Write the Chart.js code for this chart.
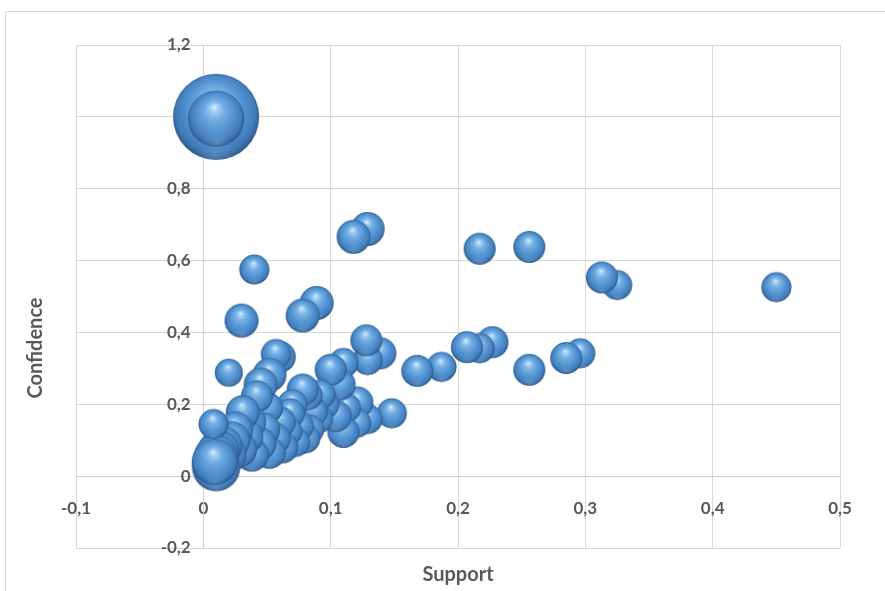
<!DOCTYPE html>
<html>
<head>
<meta charset="utf-8">
<script src="https://cdn.jsdelivr.net/npm/chart.js@4.4.1/dist/chart.umd.min.js"></script>
<style>
  html, body { margin: 0; padding: 0; background: #ffffff; }
  #wrap { position: relative; width: 885px; height: 591px; }
</style>
</head>
<body>
<div id="wrap"><canvas id="chart" width="885" height="591"></canvas></div>
<script>
// Association rules: support (x), confidence (y), bubble size (rule count / weight)
const support = [
  0.010, 0.010, 0.129, 0.118, 0.040, 0.217, 0.256, 0.313, 0.325, 0.450,
  0.089, 0.078, 0.030,
  0.128, 0.139, 0.129, 0.168, 0.187, 0.207, 0.217, 0.227, 0.256, 0.285, 0.296, 0.148,
  0.060, 0.057, 0.020, 0.052, 0.045, 0.042, 0.031,
  0.100, 0.110, 0.107, 0.078, 0.082, 0.092, 0.121, 0.129, 0.104, 0.110,
  0.090, 0.095, 0.112, 0.120,
  0.008, 0.010, 0.009, 0.010, 0.012, 0.015, 0.018, 0.022, 0.025, 0.028,
  0.033, 0.036, 0.038, 0.044, 0.047, 0.050, 0.052, 0.056, 0.060, 0.062,
  0.066, 0.068, 0.072, 0.075, 0.080, 0.083, 0.086, 0.070
];
const confidence = [
  1.000, 0.995, 0.688, 0.666, 0.575, 0.633, 0.638, 0.553, 0.532, 0.526,
  0.482, 0.447, 0.433,
  0.378, 0.342, 0.323, 0.293, 0.304, 0.359, 0.356, 0.373, 0.296, 0.329, 0.342, 0.175,
  0.332, 0.340, 0.288, 0.282, 0.255, 0.222, 0.178,
  0.296, 0.315, 0.255, 0.241, 0.225, 0.227, 0.205, 0.159, 0.167, 0.123,
  0.160, 0.200, 0.190, 0.148,
  0.145, 0.025, 0.040, 0.055, 0.070, 0.085, 0.060, 0.100, 0.130, 0.075,
  0.110, 0.150, 0.060, 0.090, 0.130, 0.190, 0.065, 0.105, 0.150, 0.080,
  0.125, 0.175, 0.095, 0.140, 0.105, 0.130, 0.180, 0.200
];
const bubbleSize = [
  100, 42.4, 15.6, 15.6, 12.2, 13.8, 13.8, 13.8, 12.2, 12.2,
  15.6, 15.6, 15.6,
  13.8, 13.8, 12.2, 13.8, 12.2, 13.8, 12.2, 13.8, 13.8, 13.8, 12.2, 12.2,
  13.8, 12.2, 10.6, 15.6, 15.6, 13.8, 15.6,
  13.8, 12.2, 13.8, 13.8, 12.2, 12.2, 13.8, 12.2, 13.8, 13.8,
  12.2, 12.2, 12.2, 12.2,
  12.2, 31.2, 28.6, 26.2, 23.9, 21.6, 21.6, 19.5, 17.5, 17.5,
  17.5, 15.6, 15.6, 15.6, 15.6, 13.8, 13.8, 13.8, 13.8, 13.8,
  12.2, 12.2, 12.2, 12.2, 12.2, 12.2, 12.2, 12.2
];

// Axis ranges and tick steps
const xRange = [-0.1, 0.5], xStep = 0.1;
const yRange = [-0.2, 1.2], yStep = 0.2;

const MAX_RADIUS = 43;
const maxSize = Math.max(...bubbleSize);

// Bubble area proportional to size
const points = support.map((x, i) => ({
  x: x,
  y: confidence[i],
  r: MAX_RADIUS * Math.sqrt(bubbleSize[i] / maxSize)
}));
// draw larger support first so bubbles to the left sit in front
const drawOrder = points.map((p, i) => ({ p, i }))
  .sort((a, b) => (b.p.x - a.p.x) || (a.i - b.i))
  .map(o => o.p);

// Shaded sphere sprite, cached per radius
const sphereCache = {};
function sphere(r) {
  const key = r.toFixed(2);
  if (sphereCache[key]) return sphereCache[key];
  const pad = 2;
  const s = Math.ceil(2 * r + 2 * pad);
  const cv = document.createElement('canvas');
  cv.width = cv.height = s;
  const g = cv.getContext('2d');
  const c = s / 2;
  const body = g.createRadialGradient(c - r * 0.06, c - r * 0.42, r * 0.02, c, c - r * 0.05, r * 1.08);
  body.addColorStop(0.00, '#d6edfd');
  body.addColorStop(0.10, '#a6d2f4');
  body.addColorStop(0.30, '#74afe3');
  body.addColorStop(0.60, '#5393d2');
  body.addColorStop(0.84, '#417cba');
  body.addColorStop(1.00, '#2a5283');
  g.beginPath();
  g.arc(c, c, r, 0, Math.PI * 2);
  g.fillStyle = body;
  g.fill();
  // soft light bounce on the lower rim
  g.save();
  g.clip();
  const rim = g.createRadialGradient(c, c + r * 0.9, 0, c, c + r * 0.9, r * 0.55);
  rim.addColorStop(0, 'rgba(130,180,228,0.35)');
  rim.addColorStop(1, 'rgba(130,180,228,0)');
  g.fillStyle = rim;
  g.fillRect(0, 0, s, s);
  g.restore();
  g.beginPath();
  g.arc(c, c, r - 0.5, 0, Math.PI * 2);
  g.strokeStyle = 'rgba(30,62,104,0.3)';
  g.lineWidth = 1;
  g.stroke();
  sphereCache[key] = cv;
  return cv;
}

const fmt = v => String(Math.round(v * 10) / 10).replace('.', ',');
// value labels on the vertical axis keep a small gap from the axis line
const fmtY = v => fmt(v) + '\u2002 ';
const TEXT = '#595959';
const GRID = '#d9d9d9';
const tickFont = { family: 'Lato', size: 17, weight: 'bold' };

// Outer frame and axis titles
const decor = {
  id: 'decor',
  beforeDraw(chart) {
    const ctx = chart.ctx;
    ctx.save();
    ctx.strokeStyle = '#d9d9d9';
    ctx.lineWidth = 1;
    ctx.beginPath();
    ctx.moveTo(5.5, chart.height);
    ctx.lineTo(5.5, 11.5);
    ctx.lineTo(chart.width, 11.5);
    ctx.stroke();
    ctx.restore();
  },
  afterDraw(chart) {
    const ctx = chart.ctx;
    const a = chart.chartArea;
    ctx.save();
    ctx.fillStyle = TEXT;
    ctx.font = 'bold 20px Lato';
    ctx.textAlign = 'center';
    ctx.textBaseline = 'middle';
    ctx.fillText('Support', (a.left + a.right) / 2, 575);
    ctx.translate(36, 348);
    ctx.rotate(-Math.PI / 2);
    ctx.fillText('Confidence', 0, 0);
    ctx.restore();
  }
};

new Chart(document.getElementById('chart'), {
  type: 'bubble',
  data: {
    datasets: [{
      data: drawOrder,
      pointStyle: ctx => sphere(ctx.raw ? ctx.raw.r : 15),
      backgroundColor: '#4f8cc9',
      borderWidth: 0,
      clip: false
    }]
  },
  options: {
    responsive: false,
    animation: false,
    events: [],
    layout: { padding: { left: 76, top: 45, right: 45, bottom: 35 } },
    plugins: { legend: { display: false }, tooltip: { enabled: false } },
    scales: {
      x: {
        type: 'linear',
        position: { y: 0 },
        min: xRange[0], max: xRange[1],
        ticks: { stepSize: xStep, callback: fmt, color: TEXT, font: tickFont, padding: 22 },
        grid: { color: GRID, drawTicks: false },
        border: { color: '#cfcfcf' }
      },
      y: {
        type: 'linear',
        position: { x: 0 },
        min: yRange[0], max: yRange[1],
        ticks: { stepSize: yStep, callback: fmtY, color: TEXT, font: tickFont, padding: 0 },
        grid: { color: GRID, drawTicks: false },
        border: { color: '#cfcfcf' }
      }
    }
  },
  plugins: [decor]
});
</script>
</body>
</html>
